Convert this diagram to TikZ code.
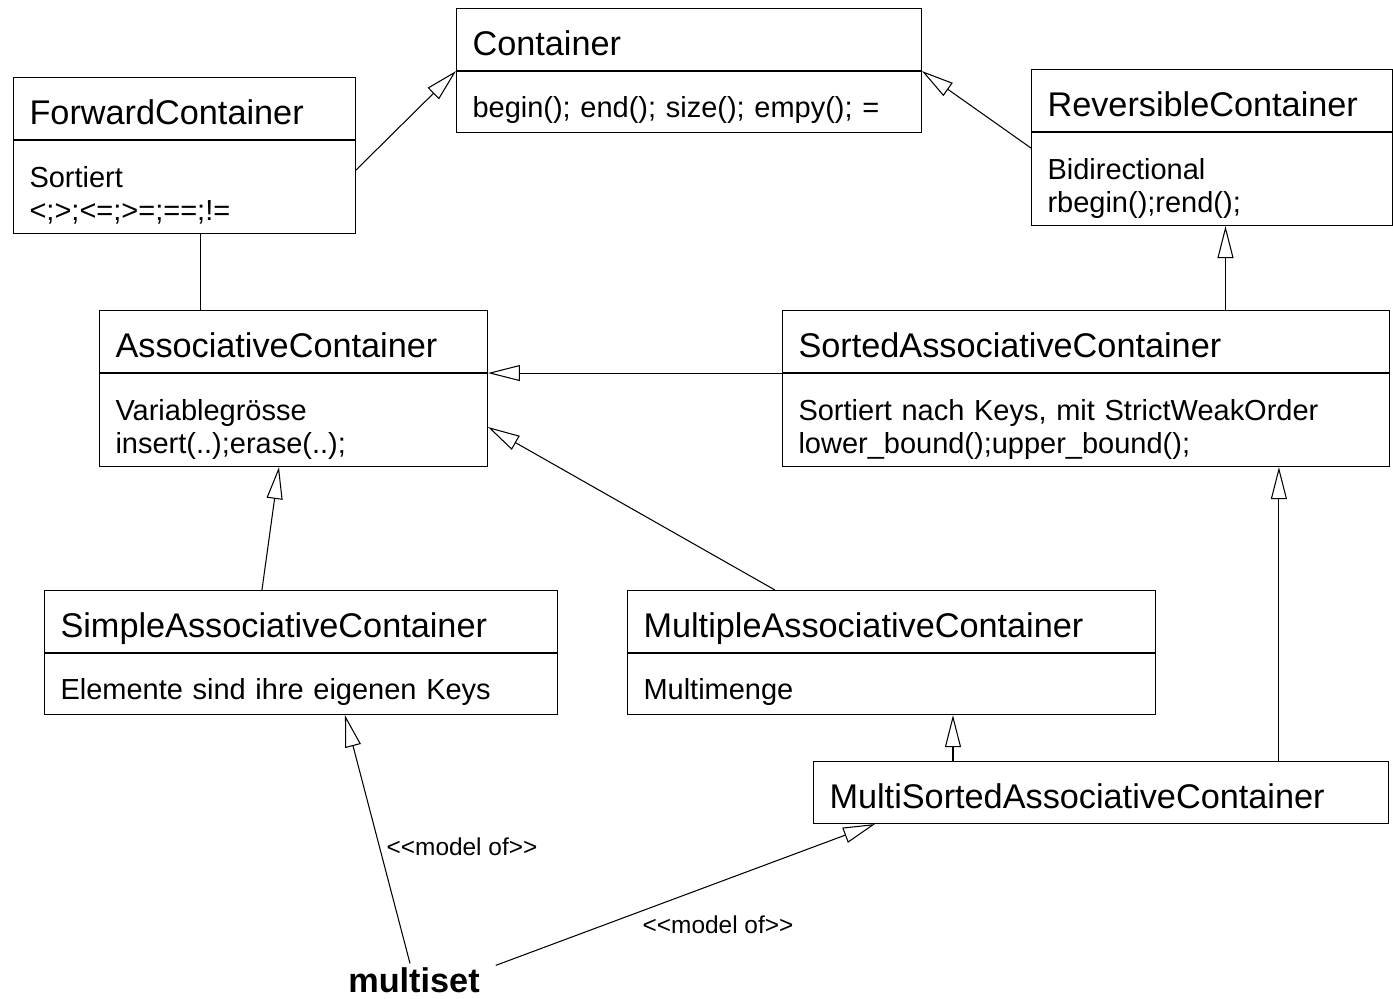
\documentclass[tikz,border=0pt]{standalone}
\usepackage{fontspec}
\usepackage{tikz}
\usetikzlibrary{arrows.meta,positioning}
\newfontfamily\umlfont{Liberation Sans}

\tikzset{
  head/.style={draw, anchor=north west, align=left, inner xsep=0.32cm, inner ysep=0pt,
    text height=0.93cm, text depth=0.31cm, font=\umlfont\fontsize{19.5}{23}\selectfont},
  body/.style={draw, anchor=north west, align=left, inner xsep=0.32cm, inner ysep=0pt,
    text height=0.92cm, text depth=0.3cm, font=\umlfont\fontsize{16.5}{18.7}\selectfont},
  twolines/.style={text height=0.94cm, text depth=0.92cm},
  inherit/.style={-{Triangle[open,length=0.64cm,width=0.32cm]}},
  lbl/.style={font=\umlfont\fontsize{13.9}{16}\selectfont, inner sep=0pt}
}

\begin{document}
\begin{tikzpicture}[x=0.02cm, y=-0.02cm, line width=0.6pt]
\useasboundingbox (0,0) rectangle (1393,998);

% Classes
\node[head, text width=8.66cm] (con) at (456,8) {Container};
\node[body, text width=8.66cm] (conb) at (con.south west) {begin(); end(); size(); empy(); =};

\node[head, text width=6.2cm] (fwd) at (13,77) {ForwardContainer};
\node[body, twolines, text width=6.2cm] (fwdb) at (fwd.south west) {Sortiert\\<;>;<=;>=;==;!=};

\node[head, text width=6.58cm] (rev) at (1031,69) {ReversibleContainer};
\node[body, twolines, text width=6.58cm] (revb) at (rev.south west) {Bidirectional\\rbegin();rend();};

\node[head, text width=7.12cm] (asc) at (99,310) {AssociativeContainer};
\node[body, twolines, text width=7.12cm] (ascb) at (asc.south west) {Variablegrösse\\insert(..);erase(..);};

\node[head, text width=11.5cm] (sac) at (782,310) {SortedAssociativeContainer};
\node[body, twolines, text width=11.5cm] (sacb) at (sac.south west) {Sortiert nach Keys, mit StrictWeakOrder\\lower\_bound();upper\_bound();};

\node[head, text width=9.62cm] (sim) at (44,590) {SimpleAssociativeContainer};
\node[body, text width=9.62cm] (simb) at (sim.south west) {Elemente sind ihre eigenen Keys};

\node[head, text width=9.92cm] (mul) at (627,590) {MultipleAssociativeContainer};
\node[body, text width=9.92cm] (mulb) at (mul.south west) {Multimenge};

\node[head, text width=10.86cm] (msc) at (813,761) {MultiSortedAssociativeContainer};

\node[font=\umlfont\bfseries\fontsize{19.5}{23}\selectfont, inner sep=2pt] (mset) at (414,980) {multiset};

% Inheritance
\draw[inherit] ([yshift=-0.6cm]fwdb.north east) -- (con.south west);
\draw[inherit] ([yshift=-0.32cm]revb.north west) -- (con.south east);
\draw ([xshift=0.32cm]fwdb.south) -- ([xshift=0.32cm]fwdb.south |- asc.north);
\draw[inherit] (sac.south west) -- (asc.south east);
\draw[inherit] ([xshift=0.27cm]revb.south |- sac.north) -- ([xshift=0.27cm]revb.south);
\draw[inherit] ([xshift=2.96cm]mul.north west) -- ([yshift=-1.08cm]ascb.north east);
\draw[inherit] ([xshift=4.36cm]sim.north west) -- ([xshift=3.6cm]ascb.south west);
\draw[inherit] ([xshift=2.8cm]msc.north west) -- ([xshift=2.8cm]msc.north west |- mulb.south);
\draw[inherit] ([xshift=9.32cm]msc.north west) -- ([xshift=9.32cm]msc.north west |- sacb.south);

% multiset is a model of
\draw[inherit] ([xshift=-0.08cm]mset.north) -- ([xshift=6.02cm]simb.south west);
\draw[inherit] ([xshift=0.24cm,yshift=-0.04cm]mset.north east) -- ([xshift=1.24cm]msc.south west);
\node[lbl] (lbl1) at (462,847) {<<model of>>};
\node[lbl] (lbl2) at (718,925) {<<model of>>};
\end{tikzpicture}
\end{document}
